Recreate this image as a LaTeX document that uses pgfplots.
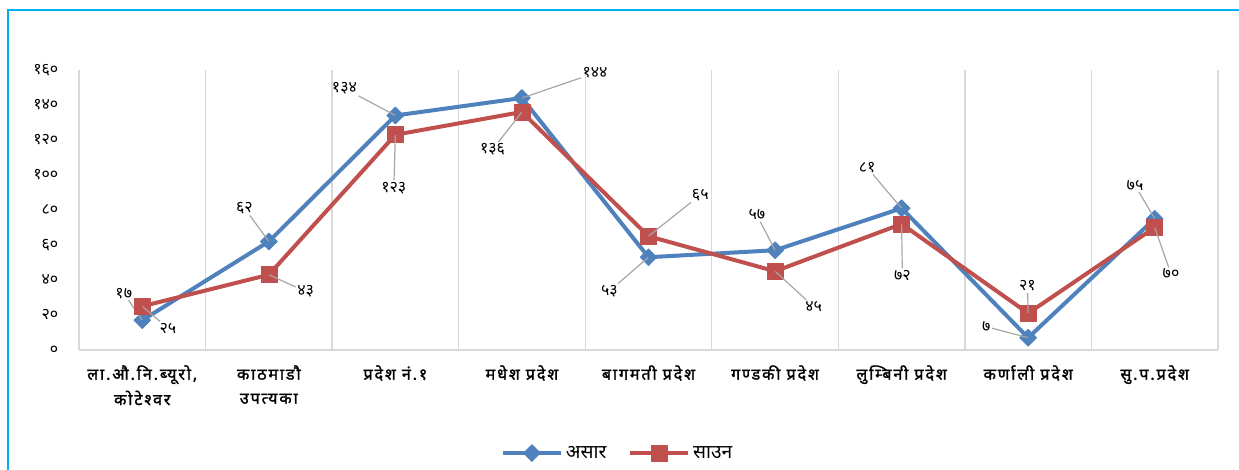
\documentclass[border=0pt]{standalone}
\usepackage{pgfplots}
\pgfplotsset{compat=1.18}
\usepackage{pgfplotstable}
\usepackage{fontspec}
\newfontfamily\dev[Script=Devanagari]{Noto Sans}
\newfontfamily\devx[Script=Devanagari, LetterSpace=12, FakeBold=1.6]{Noto Sans}
\definecolor{sblue}{HTML}{4F81BD}
\definecolor{sred}{HTML}{C0504D}
\definecolor{lgray}{HTML}{A6A6A6}
\definecolor{lgrid}{HTML}{D9D9D9}
\definecolor{cframe}{HTML}{00B0F0}

\pgfplotstableread{
x y lbl ang dist
0 17 १७ 113 16
1 62 ६२ 119 22
2 134 १३४ 152 31
3 144 १४४ 17 46
4 53 ५३ -138 29
5 57 ५७ 106 22
6 81 ८१ 126 31
7 7 ७ 173 27
8 75 ७५ 110 21
}\asar

\pgfplotstableread{
x y lbl ang dist
0 25 २५ -44 16
1 43 ४३ -19 21
2 123 १२३ -92 34
3 136 १३६ -117 25
4 65 ६५ 39 40
5 45 ४५ -45 30
6 72 ७२ -89 33
7 21 २१ 92 15
8 70 ७० -81 30
}\saun

\pgfplotsset{
  pinlabels/.style={
    point meta=explicit symbolic,
    visualization depends on={\thisrow{ang}\as\ang},
    visualization depends on={\thisrow{dist}\as\dist},
    nodes near coords={},
    every node near coord/.style={inner sep=0pt, minimum size=0pt, anchor=center, font=\tiny,
      pin={[pin distance=\dist pt, pin edge={lgray, line width=0.9pt}, text=black, font=\dev\large, inner sep=1pt]\ang:\pgfplotspointmeta}},
  },
}

\begin{document}
\begin{tikzpicture}
\useasboundingbox (0pt,0pt) rectangle (929.25pt,352.5pt);
\draw[cframe, line width=2pt] (6pt,0pt) -- (6pt,345pt) -- (929.25pt,345pt);
\begin{axis}[
  at={(59.25pt,90pt)}, anchor=south west,
  scale only axis, width=854.25pt, height=210pt,
  xmin=-0.5, xmax=8.5, ymin=0, ymax=160,
  xtick={0,...,8},
  xticklabels={{ला.औ.नि.ब्यूरो,\\[4pt]कोटेश्वर},{काठमाडौ\\[4pt]उपत्यका},{प्रदेश नं.१},{मधेश प्रदेश},{बागमती प्रदेश},{गण्डकी प्रदेश},{लुम्बिनी प्रदेश},{कर्णाली प्रदेश},{सु.प.प्रदेश}},
  minor xtick={-0.5,0.5,...,8.5},
  xminorgrids, minor grid style={color=lgrid, line width=1pt},
  ytick={0,20,...,160},
  yticklabels={०,२०,४०,६०,८०,१००,१२०,१४०,१६०},
  major tick length=0pt, minor tick length=0pt,
  axis x line*=bottom, axis y line*=left,
  axis line style={-, draw=lgrid, line width=1pt},
  yticklabel style={font=\dev\large, anchor=east, xshift=-12pt},
  xticklabel style={font=\devx\large, align=center, yshift=-8pt, text depth=2pt},
  clip=false,
  legend style={at={(0.473,-0.368)}, anchor=center, draw=none, fill=none,
    legend columns=2, font=\dev\Large,
    /tikz/every even column/.append style={column sep=14pt}},
  legend image code/.code={\draw[#1, mark repeat=2, mark phase=2] plot coordinates {(0pt,0pt) (22pt,0pt) (44pt,0pt)};},
]
\addplot[sblue, line width=3pt, line join=round, mark=square*, mark size=4.5pt,
  mark options={rotate=45, line width=0.5pt, solid}, pinlabels,
] table[x=x, y=y, meta=lbl] {\asar};
\addlegendentry{असार}
\addplot[sred, line width=3pt, line join=round, mark=square*, mark size=6pt,
  mark options={line width=0.5pt, solid}, pinlabels,
] table[x=x, y=y, meta=lbl] {\saun};
\addlegendentry{साउन}
\end{axis}
\end{tikzpicture}
\end{document}
